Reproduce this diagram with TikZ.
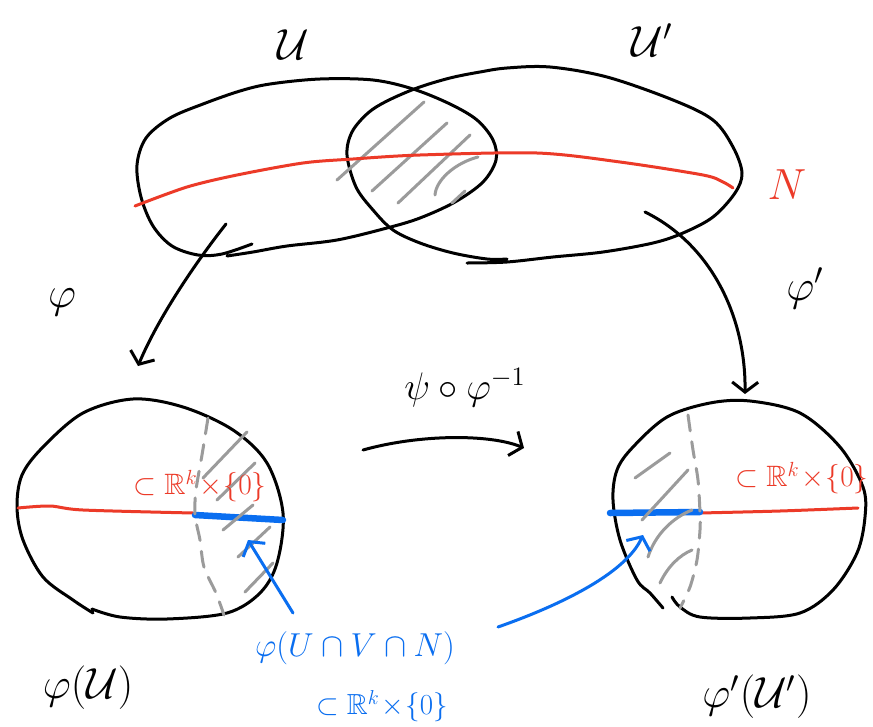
\documentclass[tikz,border=0pt]{standalone}
\usepackage{amsmath,amssymb,graphicx}
\usetikzlibrary{arrows.meta}
\definecolor{penred}{RGB}{236,58,40}
\definecolor{penblue}{RGB}{10,110,240}
\definecolor{pengray}{RGB}{155,155,155}
\tikzset{
  ink/.style={line width=3pt, line cap=round, line join=round, black},
  redink/.style={line width=3pt, line cap=round, penred},
  blueink/.style={line width=3pt, line cap=round, penblue},
  thickblue/.style={line width=6.5pt, line cap=round, penblue},
  hatch/.style={line width=3pt, line cap=round, pengray},
  dashgray/.style={line width=3pt, line cap=round, pengray, dash pattern=on 16pt off 11pt},
  barb/.style={-{Straight Barb[length=10pt,width=26pt,line width=3pt]}},
  lbl/.style={font=\fontsize{20.74}{24}\selectfont, inner sep=0pt},
  redlbl/.style={font=\fontsize{20.74}{24}\selectfont, text=penred, inner sep=0pt},
  bluelbl/.style={font=\fontsize{20.74}{24}\selectfont, text=penblue, inner sep=0pt},
}
\begin{document}
\begin{tikzpicture}[x=1pt,y=-1pt]
\useasboundingbox (0,0) rectangle (873,726);
\fill[white] (0,0) rectangle (873,726);

% ---------- top blobs ----------
\draw[ink] plot[smooth, tension=0.55] coordinates {(252,244) (222,254) (198,255) (172,246) (153,226) (141,197) (137,165) (146,138) (170,118) (203,104) (240,91) (270,84) (320,79) (373,80) (413,89) (450,104) (477,120) (493,140) (496,160) (483,182) (455,202) (420,218) (387,228) (337,240) (287,246) (253,252) (227,256)};
\draw[ink] plot[smooth, tension=0.55] coordinates {(507,259) (487,259) (453,253) (420,243) (393,230) (373,210) (356,187) (347,155) (352,132) (368,113) (387,101) (417,88) (450,78) (480,72) (507,68) (550,67) (607,77) (673,100) (713,120) (733,147) (742,173) (735,193) (713,217) (683,233) (653,243) (603,252) (553,257) (507,262) (467,263)};

% hatching in the intersection
\draw[hatch] (337,180) -- (424,102);
\draw[hatch] (372,191) -- (447,123);
\draw[hatch] (398,203) -- (470,135);
\draw[hatch] (435,195) .. controls (436,180) and (455,163) .. (478,157);
\draw[hatch] (452,203) -- (465,191);

% N
\draw[redink] plot[smooth, tension=0.5] coordinates {(135,206) (187,187) (237,175) (303,163) (353,159) (420,155) (537,153) (620,162) (703,175) (723,182) (733,188)};

\node[lbl] (lU) at (293,45) {\scalebox{2.1}{$\mathcal{U}$}};
\node[lbl] (lUp) at (652,40) {\scalebox{2.1}{$\mathcal{U}'$}};
\node[lbl, text=penred] (lN) at (787,185) {\scalebox{2.1}{$N$}};
\node[lbl] (lphi) at (62,302) {\scalebox{2.1}{$\varphi$}};
\node[lbl] (lphip) at (805,288) {\scalebox{2.1}{$\varphi'$}};

% ---------- lower left disk ----------
\draw[ink] plot[smooth, tension=0.55] coordinates {(93,613) (73,600) (43,577) (23,540) (17,507) (22,475) (43,447) (83,413) (133,399) (183,407) (233,430) (267,463) (283,513) (277,563) (260,593) (227,613) (167,619) (120,617) (92,609)};
\draw[redink] plot[smooth] coordinates {(18,508) (50,506) (83,510) (193,513)};
\draw[thickblue] (195,515) -- (283,520);
\draw[dashgray] plot[smooth] coordinates {(208,418) (202,455) (196,490) (195,515) (200,540) (204,567) (216,593) (224,615)};
\draw[hatch] (203,478) -- (247,432);
\draw[hatch] (217,500) -- (255,463);
\draw[hatch] (223,530) -- (253,505);
\draw[hatch] (238,557) -- (270,527);
\draw[hatch] (245,592) -- (273,563);
\node[redlbl] (rl1) at (200,486) {\scalebox{1.42}{$\subset\mathbb{R}^{k}\!\times\!\{0\}$}};

% ---------- lower right disk ----------
\draw[ink] plot[smooth, tension=0.55] coordinates {(663,608) (650,593) (637,580) (620,540) (613,500) (617,470) (633,447) (667,417) (710,403) (750,401) (800,413) (840,447) (863,487) (865,517) (857,553) (833,590) (800,613) (750,618) (700,617) (680,607) (672,597)};
\draw[redink] plot[smooth] coordinates {(700,513) (780,511) (858,508)};
\draw[thickblue] (610,513) -- (700,512);
\draw[dashgray] plot[smooth] coordinates {(688,415) (693,450) (698,480) (700,513) (700,530) (697,560) (690,587) (680,608)};
\draw[hatch] (635,478) -- (670,453);
\draw[hatch] (642,520) -- (688,470);
\draw[hatch] (648,557) .. controls (655,535) and (672,518) .. (692,510);
\draw[hatch] (660,583) .. controls (668,566) and (680,555) .. (692,550);
\node[redlbl] (rl2) at (802,478) {\scalebox{1.42}{$\subset\mathbb{R}^{k}\!\times\!\{0\}$}};

% ---------- maps ----------
\coordinate (phiS) at (226,224);
\coordinate (phiE) at (138,366);
\coordinate (phipS) at (645,212);
\coordinate (phipE) at (745,394);
\draw[ink, barb] (phiS) .. controls (196,262) and (158,318) .. (phiE);
\draw[ink, barb] (phipS) .. controls (712,245) and (746,318) .. (phipE);

\coordinate (mS) at (363,450);
\coordinate (mE) at (524,448);
\draw[ink, barb] (mS) .. controls (420,434) and (490,434) .. (mE);
\node[lbl] (lmid) at (465,388) {\scalebox{1.85}{$\psi\circ\varphi^{-1}$}};

% ---------- bottom labels ----------
\node[lbl] (lphiU) at (88,688) {\scalebox{2.1}{$\varphi(\mathcal{U})$}};
\node[lbl] (lphiUp) at (757,697) {\scalebox{2.1}{$\varphi'(\mathcal{U}')$}};

\node[bluelbl] (bl1) at (355,648) {\scalebox{1.6}{$\varphi(U\cap V\cap N)$}};
\node[bluelbl] (bl2) at (382,706) {\scalebox{1.4}{$\subset\mathbb{R}^{k}\!\times\!\{0\}$}};

\coordinate (bS1) at (293,613);
\coordinate (bE1) at (248,540);
\coordinate (bS2) at (498,627);
\coordinate (bE2) at (643,535);
\draw[blueink, barb] (bS1) -- (bE1);
\draw[blueink, barb] (bS2) .. controls (555,607) and (625,575) .. (bE2);
\end{tikzpicture}
\end{document}
